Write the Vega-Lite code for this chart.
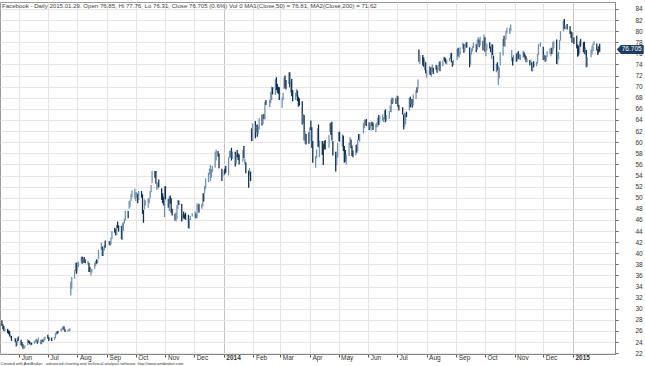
{
"$schema": "https://vega.github.io/schema/vega-lite/v6.json",
"width": 615, "height": 352,
"padding": {"left": 0, "right": 0, "top": 2, "bottom": 0},
"background": "white",
"title": {"text": "Facebook - Daily 2015.01.29. Open 76.85, Hi 77.76, Lo 76.31, Close 76.705 (0.6%) Vol 0 MA1(Close,50) = 76.81, MA2(Close,200) = 71.62", "anchor": "start", "frame": "group", "offset": -7, "dx": 2, "fontSize": 6.1, "fontWeight": "normal", "color": "#444", "font": "Liberation Sans"},
"config": {"font": "Liberation Sans", "view": {"stroke": "#9a9a9a", "strokeWidth": 1}},
"data": {"values": [
{"d":"2013-05-14","o":27.6,"h":27.9,"l":26.9,"c":27.1},
{"d":"2013-05-15","o":27.0,"h":27.2,"l":26.3,"c":26.6},
{"d":"2013-05-16","o":26.6,"h":26.9,"l":26.0,"c":26.1},
{"d":"2013-05-17","o":26.2,"h":26.5,"l":25.9,"c":26.3},
{"d":"2013-05-20","o":26.1,"h":26.4,"l":25.6,"c":25.8},
{"d":"2013-05-21","o":25.8,"h":26.1,"l":25.4,"c":25.7},
{"d":"2013-05-22","o":25.7,"h":26.0,"l":25.0,"c":25.2},
{"d":"2013-05-23","o":25.0,"h":25.4,"l":24.7,"c":25.1},
{"d":"2013-05-24","o":24.8,"h":25.1,"l":24.2,"c":24.3},
{"d":"2013-05-28","o":24.5,"h":24.7,"l":24.0,"c":24.1},
{"d":"2013-05-29","o":24.0,"h":24.2,"l":23.2,"c":23.3},
{"d":"2013-05-30","o":23.5,"h":24.7,"l":23.4,"c":24.6},
{"d":"2013-05-31","o":24.6,"h":25.0,"l":24.2,"c":24.4},
{"d":"2013-06-03","o":24.3,"h":24.4,"l":23.4,"c":23.9},
{"d":"2013-06-04","o":23.9,"h":24.0,"l":23.2,"c":23.5},
{"d":"2013-06-05","o":23.4,"h":23.6,"l":22.8,"c":22.9},
{"d":"2013-06-06","o":22.9,"h":23.1,"l":22.7,"c":23.0},
{"d":"2013-06-07","o":23.0,"h":23.4,"l":22.9,"c":23.3},
{"d":"2013-06-10","o":23.5,"h":24.5,"l":23.4,"c":24.3},
{"d":"2013-06-11","o":24.1,"h":24.3,"l":23.8,"c":24.0},
{"d":"2013-06-12","o":24.1,"h":24.2,"l":23.6,"c":23.8},
{"d":"2013-06-13","o":23.7,"h":23.9,"l":23.4,"c":23.7},
{"d":"2013-06-14","o":23.8,"h":23.9,"l":23.5,"c":23.6},
{"d":"2013-06-17","o":23.8,"h":24.2,"l":23.7,"c":24.0},
{"d":"2013-06-18","o":24.0,"h":24.4,"l":23.9,"c":24.2},
{"d":"2013-06-19","o":24.2,"h":24.6,"l":24.1,"c":24.3},
{"d":"2013-06-20","o":24.2,"h":24.3,"l":23.7,"c":23.9},
{"d":"2013-06-21","o":24.0,"h":24.8,"l":23.9,"c":24.5},
{"d":"2013-06-24","o":24.3,"h":24.4,"l":23.6,"c":23.9},
{"d":"2013-06-25","o":24.1,"h":24.4,"l":23.9,"c":24.3},
{"d":"2013-06-26","o":24.4,"h":24.5,"l":24.0,"c":24.2},
{"d":"2013-06-27","o":24.3,"h":24.8,"l":24.2,"c":24.7},
{"d":"2013-06-28","o":24.7,"h":25.0,"l":24.4,"c":24.9},
{"d":"2013-07-01","o":25.0,"h":25.3,"l":24.6,"c":24.8},
{"d":"2013-07-02","o":24.8,"h":24.9,"l":24.2,"c":24.4},
{"d":"2013-07-03","o":24.4,"h":24.7,"l":24.3,"c":24.5},
{"d":"2013-07-05","o":24.6,"h":24.8,"l":24.2,"c":24.4},
{"d":"2013-07-08","o":24.5,"h":24.9,"l":24.4,"c":24.7},
{"d":"2013-07-09","o":24.8,"h":25.6,"l":24.7,"c":25.5},
{"d":"2013-07-10","o":25.5,"h":25.9,"l":25.3,"c":25.8},
{"d":"2013-07-11","o":25.9,"h":26.0,"l":25.5,"c":25.8},
{"d":"2013-07-12","o":25.8,"h":26.0,"l":25.6,"c":25.9},
{"d":"2013-07-15","o":26.0,"h":26.4,"l":25.9,"c":26.3},
{"d":"2013-07-16","o":26.3,"h":26.6,"l":26.1,"c":26.3},
{"d":"2013-07-17","o":26.4,"h":26.9,"l":26.3,"c":26.7},
{"d":"2013-07-18","o":26.7,"h":26.8,"l":26.1,"c":26.2},
{"d":"2013-07-19","o":26.2,"h":26.3,"l":25.8,"c":25.9},
{"d":"2013-07-22","o":26.0,"h":26.2,"l":25.9,"c":26.1},
{"d":"2013-07-23","o":26.1,"h":26.3,"l":25.9,"c":26.1},
{"d":"2013-07-24","o":26.3,"h":26.5,"l":26.0,"c":26.5},
{"d":"2013-07-25","o":32.8,"h":34.9,"l":32.4,"c":34.4},
{"d":"2013-07-26","o":33.8,"h":35.7,"l":33.6,"c":35.4},
{"d":"2013-07-29","o":36.0,"h":37.0,"l":35.4,"c":36.8},
{"d":"2013-07-30","o":37.0,"h":38.3,"l":36.8,"c":37.6},
{"d":"2013-07-31","o":37.9,"h":38.3,"l":36.3,"c":36.8},
{"d":"2013-08-01","o":37.3,"h":38.3,"l":36.9,"c":37.5},
{"d":"2013-08-02","o":37.7,"h":38.5,"l":37.5,"c":38.1},
{"d":"2013-08-05","o":38.4,"h":39.3,"l":38.3,"c":39.2},
{"d":"2013-08-06","o":39.1,"h":39.4,"l":38.1,"c":38.6},
{"d":"2013-08-07","o":38.6,"h":39.0,"l":38.3,"c":38.9},
{"d":"2013-08-08","o":39.1,"h":39.3,"l":38.3,"c":38.5},
{"d":"2013-08-09","o":38.6,"h":38.9,"l":38.2,"c":38.5},
{"d":"2013-08-12","o":38.2,"h":38.6,"l":37.9,"c":38.2},
{"d":"2013-08-13","o":38.2,"h":38.3,"l":36.6,"c":37.0},
{"d":"2013-08-14","o":36.8,"h":37.5,"l":36.6,"c":36.7},
{"d":"2013-08-15","o":36.4,"h":37.0,"l":36.0,"c":36.6},
{"d":"2013-08-16","o":36.9,"h":37.2,"l":36.5,"c":37.1},
{"d":"2013-08-19","o":37.4,"h":38.3,"l":37.2,"c":37.8},
{"d":"2013-08-20","o":38.0,"h":38.6,"l":37.7,"c":38.4},
{"d":"2013-08-21","o":38.4,"h":38.9,"l":38.1,"c":38.3},
{"d":"2013-08-22","o":38.4,"h":38.8,"l":38.2,"c":38.6},
{"d":"2013-08-23","o":39.0,"h":40.6,"l":38.9,"c":40.6},
{"d":"2013-08-26","o":40.9,"h":41.9,"l":40.6,"c":41.3},
{"d":"2013-08-27","o":40.7,"h":41.2,"l":39.5,"c":39.6},
{"d":"2013-08-28","o":39.9,"h":40.9,"l":39.5,"c":40.6},
{"d":"2013-08-29","o":40.9,"h":41.5,"l":40.5,"c":41.3},
{"d":"2013-08-30","o":42.0,"h":42.3,"l":41.0,"c":41.3},
{"d":"2013-09-03","o":41.8,"h":42.2,"l":41.5,"c":41.9},
{"d":"2013-09-04","o":42.0,"h":42.2,"l":41.4,"c":41.8},
{"d":"2013-09-05","o":41.8,"h":42.8,"l":41.6,"c":42.7},
{"d":"2013-09-06","o":43.1,"h":44.0,"l":42.5,"c":44.0},
{"d":"2013-09-09","o":44.4,"h":44.6,"l":43.7,"c":44.0},
{"d":"2013-09-10","o":44.2,"h":44.3,"l":43.2,"c":43.6},
{"d":"2013-09-11","o":43.4,"h":45.1,"l":43.3,"c":45.0},
{"d":"2013-09-12","o":45.5,"h":45.7,"l":44.5,"c":44.8},
{"d":"2013-09-13","o":45.0,"h":45.0,"l":43.9,"c":44.3},
{"d":"2013-09-16","o":44.9,"h":44.9,"l":42.5,"c":42.5},
{"d":"2013-09-17","o":42.5,"h":45.4,"l":42.4,"c":45.1},
{"d":"2013-09-18","o":44.8,"h":45.6,"l":44.0,"c":45.2},
{"d":"2013-09-19","o":45.5,"h":46.2,"l":45.4,"c":46.0},
{"d":"2013-09-20","o":46.3,"h":47.6,"l":45.9,"c":47.5},
{"d":"2013-09-23","o":47.3,"h":47.6,"l":46.3,"c":47.2},
{"d":"2013-09-24","o":48.2,"h":49.4,"l":48.0,"c":48.5},
{"d":"2013-09-25","o":49.2,"h":49.5,"l":48.3,"c":49.5},
{"d":"2013-09-26","o":50.0,"h":50.6,"l":49.4,"c":50.4},
{"d":"2013-09-27","o":50.3,"h":51.3,"l":50.1,"c":51.2},
{"d":"2013-09-30","o":50.1,"h":51.6,"l":49.8,"c":50.2},
{"d":"2013-10-01","o":49.9,"h":51.0,"l":49.4,"c":50.4},
{"d":"2013-10-02","o":50.1,"h":51.0,"l":49.9,"c":50.3},
{"d":"2013-10-03","o":50.4,"h":50.7,"l":49.0,"c":49.2},
{"d":"2013-10-04","o":49.8,"h":51.2,"l":49.6,"c":51.0},
{"d":"2013-10-07","o":50.7,"h":51.2,"l":50.0,"c":50.5},
{"d":"2013-10-08","o":50.6,"h":50.6,"l":47.1,"c":47.1},
{"d":"2013-10-09","o":47.4,"h":47.8,"l":45.5,"c":46.8},
{"d":"2013-10-10","o":47.9,"h":49.7,"l":47.9,"c":49.1},
{"d":"2013-10-11","o":48.9,"h":49.5,"l":48.6,"c":49.1},
{"d":"2013-10-14","o":48.3,"h":49.9,"l":48.2,"c":49.5},
{"d":"2013-10-15","o":49.5,"h":49.9,"l":49.0,"c":49.5},
{"d":"2013-10-16","o":50.0,"h":51.2,"l":49.9,"c":51.1},
{"d":"2013-10-17","o":51.1,"h":52.3,"l":51.0,"c":52.2},
{"d":"2013-10-18","o":52.8,"h":54.8,"l":52.6,"c":54.2},
{"d":"2013-10-21","o":54.3,"h":54.8,"l":53.6,"c":53.9},
{"d":"2013-10-22","o":54.3,"h":54.8,"l":52.5,"c":52.7},
{"d":"2013-10-23","o":51.8,"h":52.6,"l":51.4,"c":51.9},
{"d":"2013-10-24","o":52.4,"h":52.8,"l":51.6,"c":52.4},
{"d":"2013-10-25","o":53.2,"h":53.3,"l":51.9,"c":51.9},
{"d":"2013-10-28","o":51.5,"h":51.7,"l":49.6,"c":50.2},
{"d":"2013-10-29","o":50.7,"h":50.8,"l":49.0,"c":49.4},
{"d":"2013-10-30","o":50.0,"h":50.2,"l":48.6,"c":49.0},
{"d":"2013-10-31","o":47.2,"h":52.0,"l":46.5,"c":50.2},
{"d":"2013-11-01","o":50.9,"h":52.1,"l":49.7,"c":49.8},
{"d":"2013-11-04","o":49.4,"h":49.8,"l":48.2,"c":48.2},
{"d":"2013-11-05","o":47.8,"h":50.2,"l":47.6,"c":50.1},
{"d":"2013-11-06","o":50.3,"h":50.4,"l":48.9,"c":49.1},
{"d":"2013-11-07","o":49.2,"h":49.9,"l":47.3,"c":47.6},
{"d":"2013-11-08","o":47.8,"h":48.0,"l":46.8,"c":47.5},
{"d":"2013-11-11","o":47.0,"h":47.1,"l":45.9,"c":46.2},
{"d":"2013-11-12","o":46.0,"h":47.4,"l":45.7,"c":46.6},
{"d":"2013-11-13","o":46.2,"h":48.7,"l":46.1,"c":48.7},
{"d":"2013-11-14","o":48.7,"h":49.6,"l":48.0,"c":49.0},
{"d":"2013-11-15","o":49.1,"h":49.5,"l":48.7,"c":49.0},
{"d":"2013-11-18","o":48.5,"h":48.9,"l":45.7,"c":45.8},
{"d":"2013-11-19","o":46.3,"h":47.0,"l":46.0,"c":46.4},
{"d":"2013-11-20","o":46.6,"h":47.5,"l":46.3,"c":46.4},
{"d":"2013-11-21","o":46.9,"h":47.0,"l":46.2,"c":46.7},
{"d":"2013-11-22","o":47.0,"h":47.3,"l":46.0,"c":46.2},
{"d":"2013-11-25","o":46.4,"h":46.9,"l":44.5,"c":44.8},
{"d":"2013-11-26","o":44.7,"h":46.2,"l":44.4,"c":45.9},
{"d":"2013-11-27","o":46.3,"h":46.7,"l":46.0,"c":46.5},
{"d":"2013-11-29","o":46.7,"h":47.2,"l":46.6,"c":47.0},
{"d":"2013-12-02","o":46.9,"h":47.5,"l":46.3,"c":47.1},
{"d":"2013-12-03","o":46.8,"h":47.1,"l":46.3,"c":46.7},
{"d":"2013-12-04","o":46.5,"h":49.0,"l":46.3,"c":48.6},
{"d":"2013-12-05","o":48.2,"h":48.7,"l":47.9,"c":48.3},
{"d":"2013-12-06","o":48.9,"h":48.9,"l":47.3,"c":47.9},
{"d":"2013-12-09","o":48.1,"h":48.9,"l":48.0,"c":48.8},
{"d":"2013-12-10","o":48.6,"h":50.8,"l":48.4,"c":50.3},
{"d":"2013-12-11","o":50.6,"h":50.8,"l":49.3,"c":49.4},
{"d":"2013-12-12","o":51.0,"h":52.1,"l":50.8,"c":51.8},
{"d":"2013-12-13","o":51.7,"h":53.5,"l":51.6,"c":53.3},
{"d":"2013-12-16","o":53.3,"h":54.5,"l":52.8,"c":53.8},
{"d":"2013-12-17","o":54.8,"h":55.2,"l":54.2,"c":54.9},
{"d":"2013-12-18","o":54.9,"h":55.9,"l":53.0,"c":55.6},
{"d":"2013-12-19","o":54.3,"h":55.2,"l":53.6,"c":55.1},
{"d":"2013-12-20","o":55.1,"h":55.7,"l":54.6,"c":55.1},
{"d":"2013-12-23","o":55.5,"h":58.3,"l":55.4,"c":57.8},
{"d":"2013-12-24","o":58.0,"h":58.7,"l":56.7,"c":58.0},
{"d":"2013-12-26","o":58.3,"h":58.4,"l":57.4,"c":57.7},
{"d":"2013-12-27","o":57.8,"h":57.9,"l":55.3,"c":55.4},
{"d":"2013-12-30","o":54.9,"h":55.2,"l":53.0,"c":53.7},
{"d":"2013-12-31","o":54.1,"h":54.9,"l":53.8,"c":54.7},
{"d":"2014-01-02","o":54.8,"h":55.2,"l":54.2,"c":54.7},
{"d":"2014-01-03","o":55.0,"h":55.7,"l":54.5,"c":54.6},
{"d":"2014-01-06","o":54.4,"h":57.3,"l":54.0,"c":57.2},
{"d":"2014-01-07","o":57.7,"h":58.5,"l":57.2,"c":57.9},
{"d":"2014-01-08","o":57.6,"h":58.4,"l":57.2,"c":58.2},
{"d":"2014-01-09","o":58.7,"h":59.0,"l":56.7,"c":57.2},
{"d":"2014-01-10","o":57.1,"h":58.3,"l":57.0,"c":57.9},
{"d":"2014-01-13","o":57.9,"h":58.3,"l":55.6,"c":55.9},
{"d":"2014-01-14","o":56.5,"h":57.8,"l":56.1,"c":57.7},
{"d":"2014-01-15","o":58.0,"h":58.6,"l":57.3,"c":57.6},
{"d":"2014-01-16","o":57.3,"h":58.0,"l":56.8,"c":57.2},
{"d":"2014-01-17","o":57.3,"h":57.8,"l":56.0,"c":56.3},
{"d":"2014-01-21","o":56.6,"h":58.6,"l":56.5,"c":58.5},
{"d":"2014-01-22","o":58.9,"h":59.3,"l":57.1,"c":57.5},
{"d":"2014-01-23","o":56.4,"h":57.0,"l":56.0,"c":56.6},
{"d":"2014-01-24","o":56.2,"h":56.4,"l":54.4,"c":54.5},
{"d":"2014-01-27","o":54.7,"h":54.9,"l":51.8,"c":53.6},
{"d":"2014-01-28","o":54.0,"h":55.3,"l":54.0,"c":55.1},
{"d":"2014-01-29","o":54.6,"h":54.7,"l":53.0,"c":53.5},
{"d":"2014-01-30","o":62.1,"h":62.5,"l":60.2,"c":61.1},
{"d":"2014-01-31","o":60.5,"h":63.4,"l":60.2,"c":62.6},
{"d":"2014-02-03","o":63.0,"h":63.8,"l":60.7,"c":61.5},
{"d":"2014-02-04","o":62.1,"h":63.1,"l":61.8,"c":62.8},
{"d":"2014-02-05","o":62.7,"h":63.2,"l":61.0,"c":62.2},
{"d":"2014-02-06","o":61.5,"h":62.8,"l":61.5,"c":62.2},
{"d":"2014-02-07","o":62.3,"h":64.3,"l":62.3,"c":64.3},
{"d":"2014-02-10","o":64.3,"h":65.0,"l":63.0,"c":63.6},
{"d":"2014-02-11","o":63.8,"h":65.0,"l":63.3,"c":64.9},
{"d":"2014-02-12","o":64.9,"h":65.1,"l":64.2,"c":64.5},
{"d":"2014-02-13","o":64.2,"h":67.3,"l":64.1,"c":67.3},
{"d":"2014-02-14","o":67.5,"h":67.6,"l":66.7,"c":67.1},
{"d":"2014-02-18","o":66.9,"h":67.7,"l":66.3,"c":67.3},
{"d":"2014-02-19","o":67.1,"h":69.1,"l":67.0,"c":68.1},
{"d":"2014-02-20","o":67.7,"h":70.0,"l":67.6,"c":69.6},
{"d":"2014-02-21","o":69.7,"h":69.9,"l":68.6,"c":68.6},
{"d":"2014-02-24","o":68.7,"h":71.4,"l":68.5,"c":70.8},
{"d":"2014-02-25","o":70.9,"h":71.7,"l":69.4,"c":69.9},
{"d":"2014-02-26","o":70.2,"h":70.5,"l":68.9,"c":69.3},
{"d":"2014-02-27","o":69.3,"h":70.0,"l":68.7,"c":68.9},
{"d":"2014-02-28","o":69.5,"h":69.9,"l":67.6,"c":68.5},
{"d":"2014-03-03","o":67.1,"h":68.1,"l":66.2,"c":67.4},
{"d":"2014-03-04","o":68.7,"h":68.9,"l":67.6,"c":68.8},
{"d":"2014-03-05","o":69.7,"h":71.6,"l":69.6,"c":71.6},
{"d":"2014-03-06","o":71.9,"h":72.0,"l":69.8,"c":70.8},
{"d":"2014-03-07","o":71.1,"h":71.2,"l":69.5,"c":69.8},
{"d":"2014-03-10","o":70.8,"h":72.6,"l":70.5,"c":72.0},
{"d":"2014-03-11","o":72.5,"h":72.6,"l":69.9,"c":70.1},
{"d":"2014-03-12","o":69.9,"h":71.0,"l":68.9,"c":70.9},
{"d":"2014-03-13","o":71.3,"h":71.4,"l":68.3,"c":68.8},
{"d":"2014-03-14","o":68.5,"h":69.4,"l":67.4,"c":67.7},
{"d":"2014-03-17","o":68.2,"h":68.9,"l":67.6,"c":68.7},
{"d":"2014-03-18","o":68.8,"h":69.6,"l":68.2,"c":69.2},
{"d":"2014-03-19","o":69.2,"h":69.3,"l":67.4,"c":68.2},
{"d":"2014-03-20","o":68.0,"h":68.2,"l":66.4,"c":67.0},
{"d":"2014-03-21","o":67.5,"h":67.9,"l":66.6,"c":67.2},
{"d":"2014-03-24","o":67.0,"h":67.4,"l":63.2,"c":64.1},
{"d":"2014-03-25","o":64.9,"h":65.1,"l":63.4,"c":64.9},
{"d":"2014-03-26","o":64.7,"h":64.9,"l":60.3,"c":60.4},
{"d":"2014-03-27","o":60.5,"h":61.9,"l":59.7,"c":61.0},
{"d":"2014-03-28","o":61.3,"h":61.5,"l":59.6,"c":60.0},
{"d":"2014-03-31","o":60.8,"h":61.8,"l":59.7,"c":60.2},
{"d":"2014-04-01","o":60.5,"h":62.7,"l":60.2,"c":62.6},
{"d":"2014-04-02","o":63.2,"h":63.9,"l":62.2,"c":62.7},
{"d":"2014-04-03","o":62.6,"h":62.7,"l":59.0,"c":59.5},
{"d":"2014-04-04","o":59.9,"h":60.2,"l":56.3,"c":56.8},
{"d":"2014-04-07","o":56.0,"h":57.5,"l":55.4,"c":57.0},
{"d":"2014-04-08","o":57.7,"h":58.7,"l":57.1,"c":58.2},
{"d":"2014-04-09","o":59.6,"h":62.5,"l":59.2,"c":62.4},
{"d":"2014-04-10","o":63.1,"h":63.2,"l":59.1,"c":59.2},
{"d":"2014-04-11","o":57.6,"h":60.3,"l":57.3,"c":58.5},
{"d":"2014-04-14","o":60.1,"h":60.2,"l":57.7,"c":58.9},
{"d":"2014-04-15","o":59.3,"h":59.7,"l":55.9,"c":59.1},
{"d":"2014-04-16","o":59.8,"h":60.2,"l":58.7,"c":59.7},
{"d":"2014-04-17","o":59.3,"h":60.4,"l":58.7,"c":58.9},
{"d":"2014-04-21","o":59.5,"h":61.3,"l":59.0,"c":61.2},
{"d":"2014-04-22","o":62.6,"h":63.4,"l":61.9,"c":63.0},
{"d":"2014-04-23","o":63.4,"h":63.5,"l":61.3,"c":61.4},
{"d":"2014-04-24","o":63.6,"h":63.7,"l":60.3,"c":60.9},
{"d":"2014-04-25","o":59.9,"h":60.2,"l":57.6,"c":57.7},
{"d":"2014-04-28","o":58.1,"h":58.3,"l":54.7,"c":56.1},
{"d":"2014-04-29","o":56.1,"h":58.3,"l":55.8,"c":58.2},
{"d":"2014-04-30","o":57.6,"h":59.9,"l":57.2,"c":59.8},
{"d":"2014-05-01","o":60.4,"h":61.8,"l":60.2,"c":61.2},
{"d":"2014-05-02","o":61.3,"h":61.9,"l":60.1,"c":60.5},
{"d":"2014-05-05","o":59.7,"h":61.4,"l":59.2,"c":61.2},
{"d":"2014-05-06","o":60.9,"h":61.2,"l":58.4,"c":58.5},
{"d":"2014-05-07","o":58.8,"h":59.3,"l":56.3,"c":57.4},
{"d":"2014-05-08","o":57.2,"h":58.6,"l":56.5,"c":56.8},
{"d":"2014-05-09","o":56.9,"h":57.8,"l":56.0,"c":57.2},
{"d":"2014-05-12","o":57.9,"h":59.9,"l":57.5,"c":59.8},
{"d":"2014-05-13","o":59.7,"h":60.9,"l":59.5,"c":59.8},
{"d":"2014-05-14","o":59.5,"h":60.5,"l":58.9,"c":59.2},
{"d":"2014-05-15","o":59.2,"h":59.4,"l":57.5,"c":57.9},
{"d":"2014-05-16","o":58.3,"h":58.5,"l":57.3,"c":58.0},
{"d":"2014-05-19","o":57.9,"h":59.5,"l":57.6,"c":59.2},
{"d":"2014-05-20","o":59.5,"h":59.6,"l":58.1,"c":58.6},
{"d":"2014-05-21","o":58.6,"h":60.5,"l":58.4,"c":60.5},
{"d":"2014-05-22","o":60.9,"h":61.5,"l":60.4,"c":60.5},
{"d":"2014-05-23","o":60.4,"h":61.5,"l":60.1,"c":61.4},
{"d":"2014-05-27","o":61.6,"h":63.5,"l":61.6,"c":63.5},
{"d":"2014-05-28","o":63.4,"h":64.1,"l":62.5,"c":63.5},
{"d":"2014-05-29","o":63.8,"h":64.0,"l":63.1,"c":63.8},
{"d":"2014-05-30","o":63.9,"h":64.2,"l":62.9,"c":63.3},
{"d":"2014-06-02","o":63.2,"h":63.6,"l":62.2,"c":63.1},
{"d":"2014-06-03","o":62.6,"h":63.5,"l":62.5,"c":62.9},
{"d":"2014-06-04","o":62.5,"h":63.6,"l":62.1,"c":63.3},
{"d":"2014-06-05","o":63.7,"h":63.7,"l":62.9,"c":63.2},
{"d":"2014-06-06","o":63.4,"h":63.5,"l":62.2,"c":62.5},
{"d":"2014-06-09","o":62.4,"h":63.3,"l":61.8,"c":62.9},
{"d":"2014-06-10","o":63.5,"h":63.6,"l":62.7,"c":63.7},
{"d":"2014-06-11","o":63.0,"h":64.4,"l":62.8,"c":64.3},
{"d":"2014-06-12","o":64.3,"h":64.9,"l":63.1,"c":63.7},
{"d":"2014-06-13","o":64.2,"h":64.7,"l":63.6,"c":64.5},
{"d":"2014-06-16","o":64.0,"h":65.0,"l":63.9,"c":64.2},
{"d":"2014-06-17","o":64.2,"h":64.5,"l":63.6,"c":64.4},
{"d":"2014-06-18","o":64.6,"h":65.7,"l":64.1,"c":65.6},
{"d":"2014-06-19","o":65.5,"h":65.9,"l":63.6,"c":64.3},
{"d":"2014-06-20","o":64.5,"h":64.9,"l":63.9,"c":64.5},
{"d":"2014-06-23","o":64.3,"h":65.6,"l":64.2,"c":65.6},
{"d":"2014-06-24","o":65.6,"h":66.6,"l":65.4,"c":65.7},
{"d":"2014-06-25","o":65.6,"h":67.7,"l":65.4,"c":67.6},
{"d":"2014-06-26","o":68.0,"h":68.0,"l":66.9,"c":67.9},
{"d":"2014-06-27","o":67.5,"h":67.9,"l":67.0,"c":67.6},
{"d":"2014-06-30","o":67.5,"h":67.9,"l":66.9,"c":67.3},
{"d":"2014-07-01","o":67.6,"h":68.4,"l":67.4,"c":68.1},
{"d":"2014-07-02","o":68.1,"h":68.3,"l":66.4,"c":66.5},
{"d":"2014-07-03","o":66.6,"h":66.7,"l":65.7,"c":66.3},
{"d":"2014-07-07","o":66.3,"h":66.3,"l":65.0,"c":65.3},
{"d":"2014-07-08","o":64.6,"h":65.0,"l":62.3,"c":62.8},
{"d":"2014-07-09","o":63.3,"h":65.3,"l":62.8,"c":65.0},
{"d":"2014-07-10","o":63.4,"h":65.2,"l":63.2,"c":64.9},
{"d":"2014-07-11","o":65.3,"h":65.5,"l":64.5,"c":65.0},
{"d":"2014-07-14","o":65.7,"h":68.0,"l":65.7,"c":67.9},
{"d":"2014-07-15","o":68.1,"h":68.2,"l":66.3,"c":66.8},
{"d":"2014-07-16","o":67.5,"h":67.8,"l":66.8,"c":67.7},
{"d":"2014-07-17","o":67.6,"h":67.8,"l":66.2,"c":66.4},
{"d":"2014-07-18","o":66.8,"h":68.6,"l":66.6,"c":68.4},
{"d":"2014-07-21","o":67.9,"h":69.4,"l":67.8,"c":69.4},
{"d":"2014-07-22","o":69.8,"h":69.9,"l":68.9,"c":69.3},
{"d":"2014-07-23","o":69.7,"h":71.3,"l":69.6,"c":71.3},
{"d":"2014-07-24","o":75.5,"h":76.7,"l":74.5,"c":75.0},
{"d":"2014-07-25","o":74.9,"h":75.7,"l":74.1,"c":75.2},
{"d":"2014-07-28","o":75.2,"h":75.7,"l":73.8,"c":74.9},
{"d":"2014-07-29","o":74.7,"h":75.3,"l":73.6,"c":73.7},
{"d":"2014-07-30","o":74.2,"h":74.8,"l":73.0,"c":74.7},
{"d":"2014-07-31","o":74.0,"h":74.4,"l":72.4,"c":72.7},
{"d":"2014-08-01","o":72.2,"h":73.0,"l":71.6,"c":72.4},
{"d":"2014-08-04","o":72.4,"h":73.7,"l":72.2,"c":73.5},
{"d":"2014-08-05","o":73.2,"h":73.5,"l":72.1,"c":72.7},
{"d":"2014-08-06","o":72.0,"h":73.6,"l":71.8,"c":72.5},
{"d":"2014-08-07","o":73.0,"h":74.0,"l":72.7,"c":73.2},
{"d":"2014-08-08","o":73.4,"h":73.4,"l":72.3,"c":73.1},
{"d":"2014-08-11","o":73.5,"h":73.9,"l":73.1,"c":73.4},
{"d":"2014-08-12","o":73.4,"h":73.6,"l":72.5,"c":72.8},
{"d":"2014-08-13","o":73.0,"h":73.9,"l":72.9,"c":73.8},
{"d":"2014-08-14","o":74.0,"h":74.4,"l":73.7,"c":74.3},
{"d":"2014-08-15","o":74.6,"h":74.6,"l":72.8,"c":73.6},
{"d":"2014-08-18","o":74.2,"h":74.7,"l":73.7,"c":74.6},
{"d":"2014-08-19","o":74.8,"h":75.4,"l":74.7,"c":75.3},
{"d":"2014-08-20","o":75.2,"h":75.3,"l":74.5,"c":74.8},
{"d":"2014-08-21","o":74.8,"h":75.1,"l":74.2,"c":74.6},
{"d":"2014-08-22","o":74.3,"h":74.8,"l":74.0,"c":74.6},
{"d":"2014-08-25","o":74.8,"h":75.2,"l":74.6,"c":75.0},
{"d":"2014-08-26","o":75.2,"h":76.0,"l":75.0,"c":76.0},
{"d":"2014-08-27","o":75.9,"h":76.1,"l":74.4,"c":74.6},
{"d":"2014-08-28","o":74.5,"h":74.6,"l":73.6,"c":73.9},
{"d":"2014-08-29","o":74.3,"h":74.8,"l":73.9,"c":74.8},
{"d":"2014-09-02","o":75.0,"h":76.8,"l":74.8,"c":76.7},
{"d":"2014-09-03","o":76.6,"h":77.0,"l":75.5,"c":75.8},
{"d":"2014-09-04","o":75.9,"h":76.4,"l":75.2,"c":76.0},
{"d":"2014-09-05","o":76.0,"h":77.1,"l":75.8,"c":77.0},
{"d":"2014-09-08","o":77.0,"h":77.9,"l":76.8,"c":77.4},
{"d":"2014-09-09","o":77.2,"h":77.7,"l":76.1,"c":76.7},
{"d":"2014-09-10","o":76.9,"h":77.5,"l":76.3,"c":77.4},
{"d":"2014-09-11","o":77.3,"h":78.0,"l":77.1,"c":77.9},
{"d":"2014-09-12","o":77.6,"h":78.0,"l":77.0,"c":77.5},
{"d":"2014-09-15","o":77.0,"h":77.1,"l":73.5,"c":74.6},
{"d":"2014-09-16","o":74.2,"h":76.1,"l":74.0,"c":76.1},
{"d":"2014-09-17","o":76.0,"h":76.9,"l":75.8,"c":76.4},
{"d":"2014-09-18","o":76.8,"h":77.3,"l":76.4,"c":77.0},
{"d":"2014-09-19","o":77.6,"h":78.0,"l":77.0,"c":77.9},
{"d":"2014-09-22","o":77.6,"h":77.7,"l":76.2,"c":76.8},
{"d":"2014-09-23","o":76.6,"h":78.5,"l":76.6,"c":78.3},
{"d":"2014-09-24","o":78.3,"h":78.9,"l":77.8,"c":78.5},
{"d":"2014-09-25","o":78.3,"h":78.5,"l":77.1,"c":77.2},
{"d":"2014-09-26","o":77.4,"h":79.0,"l":77.4,"c":79.0},
{"d":"2014-09-29","o":78.0,"h":78.3,"l":76.5,"c":77.0},
{"d":"2014-09-30","o":77.5,"h":79.4,"l":77.4,"c":79.0},
{"d":"2014-10-01","o":78.8,"h":78.9,"l":76.3,"c":76.6},
{"d":"2014-10-02","o":76.5,"h":77.3,"l":75.5,"c":77.1},
{"d":"2014-10-03","o":77.3,"h":77.8,"l":76.5,"c":77.4},
{"d":"2014-10-06","o":77.7,"h":78.0,"l":76.9,"c":77.6},
{"d":"2014-10-07","o":77.0,"h":77.2,"l":76.2,"c":76.3},
{"d":"2014-10-08","o":76.4,"h":77.7,"l":75.0,"c":77.5},
{"d":"2014-10-09","o":77.3,"h":77.6,"l":75.7,"c":75.9},
{"d":"2014-10-10","o":75.3,"h":75.6,"l":72.8,"c":72.9},
{"d":"2014-10-13","o":72.8,"h":74.1,"l":72.6,"c":73.6},
{"d":"2014-10-14","o":74.1,"h":74.4,"l":72.9,"c":73.2},
{"d":"2014-10-15","o":71.4,"h":73.8,"l":70.3,"c":73.2},
{"d":"2014-10-16","o":71.6,"h":73.5,"l":71.5,"c":72.6},
{"d":"2014-10-17","o":73.9,"h":76.2,"l":73.8,"c":76.0},
{"d":"2014-10-20","o":75.7,"h":78.6,"l":75.6,"c":78.6},
{"d":"2014-10-21","o":78.9,"h":79.2,"l":77.3,"c":77.8},
{"d":"2014-10-22","o":78.0,"h":78.6,"l":77.2,"c":78.4},
{"d":"2014-10-23","o":78.9,"h":80.1,"l":78.5,"c":80.0},
{"d":"2014-10-24","o":80.0,"h":80.6,"l":79.6,"c":80.4},
{"d":"2014-10-27","o":80.2,"h":80.6,"l":79.5,"c":80.3},
{"d":"2014-10-28","o":80.4,"h":81.2,"l":80.0,"c":80.8},
{"d":"2014-10-29","o":75.9,"h":76.6,"l":74.6,"c":75.9},
{"d":"2014-10-30","o":75.1,"h":75.3,"l":73.8,"c":74.1},
{"d":"2014-10-31","o":75.0,"h":75.7,"l":74.6,"c":75.0},
{"d":"2014-11-03","o":75.5,"h":76.0,"l":74.5,"c":75.0},
{"d":"2014-11-04","o":75.0,"h":76.2,"l":74.7,"c":75.9},
{"d":"2014-11-05","o":76.2,"h":76.4,"l":75.0,"c":75.4},
{"d":"2014-11-06","o":75.5,"h":75.9,"l":74.9,"c":75.6},
{"d":"2014-11-07","o":75.4,"h":75.8,"l":74.8,"c":75.6},
{"d":"2014-11-10","o":75.7,"h":76.5,"l":75.2,"c":76.1},
{"d":"2014-11-11","o":76.1,"h":76.2,"l":75.4,"c":75.9},
{"d":"2014-11-12","o":75.6,"h":75.8,"l":74.9,"c":75.3},
{"d":"2014-11-13","o":75.4,"h":75.5,"l":74.4,"c":74.7},
{"d":"2014-11-14","o":74.8,"h":75.1,"l":74.4,"c":74.9},
{"d":"2014-11-17","o":74.7,"h":74.8,"l":73.8,"c":74.2},
{"d":"2014-11-18","o":74.3,"h":74.9,"l":74.0,"c":74.3},
{"d":"2014-11-19","o":74.3,"h":74.4,"l":72.8,"c":73.3},
{"d":"2014-11-20","o":73.0,"h":73.8,"l":72.8,"c":73.6},
{"d":"2014-11-21","o":74.4,"h":74.6,"l":73.5,"c":73.8},
{"d":"2014-11-24","o":74.0,"h":74.5,"l":73.7,"c":74.0},
{"d":"2014-11-25","o":74.3,"h":75.9,"l":74.2,"c":75.6},
{"d":"2014-11-26","o":75.8,"h":77.7,"l":75.7,"c":77.6},
{"d":"2014-11-28","o":77.6,"h":78.0,"l":77.2,"c":77.7},
{"d":"2014-12-01","o":77.0,"h":77.2,"l":74.8,"c":75.1},
{"d":"2014-12-02","o":75.5,"h":75.8,"l":74.9,"c":75.5},
{"d":"2014-12-03","o":75.4,"h":75.6,"l":74.5,"c":74.9},
{"d":"2014-12-04","o":74.9,"h":75.6,"l":74.6,"c":75.2},
{"d":"2014-12-05","o":75.4,"h":76.4,"l":75.3,"c":76.4},
{"d":"2014-12-08","o":76.2,"h":76.9,"l":75.9,"c":76.5},
{"d":"2014-12-09","o":75.8,"h":77.0,"l":75.5,"c":76.8},
{"d":"2014-12-10","o":76.7,"h":77.0,"l":75.9,"c":76.2},
{"d":"2014-12-11","o":76.5,"h":78.1,"l":76.4,"c":77.7},
{"d":"2014-12-12","o":77.2,"h":78.2,"l":76.9,"c":77.8},
{"d":"2014-12-15","o":78.3,"h":78.5,"l":74.1,"c":74.7},
{"d":"2014-12-16","o":74.3,"h":76.0,"l":74.0,"c":74.7},
{"d":"2014-12-17","o":75.0,"h":76.3,"l":74.9,"c":76.1},
{"d":"2014-12-18","o":76.9,"h":78.4,"l":76.6,"c":78.4},
{"d":"2014-12-19","o":78.8,"h":80.0,"l":78.3,"c":79.9},
{"d":"2014-12-22","o":80.1,"h":81.9,"l":80.0,"c":81.5},
{"d":"2014-12-23","o":82.0,"h":82.2,"l":80.4,"c":80.6},
{"d":"2014-12-24","o":80.6,"h":81.0,"l":80.3,"c":80.8},
{"d":"2014-12-26","o":80.9,"h":81.3,"l":80.3,"c":80.8},
{"d":"2014-12-29","o":80.7,"h":80.9,"l":79.5,"c":80.0},
{"d":"2014-12-30","o":79.8,"h":80.0,"l":78.8,"c":79.2},
{"d":"2014-12-31","o":79.5,"h":79.8,"l":77.9,"c":78.0},
{"d":"2015-01-02","o":78.6,"h":78.9,"l":77.7,"c":78.5},
{"d":"2015-01-05","o":78.0,"h":79.2,"l":76.9,"c":77.2},
{"d":"2015-01-06","o":77.2,"h":77.6,"l":75.4,"c":76.2},
{"d":"2015-01-07","o":76.8,"h":77.4,"l":75.6,"c":76.2},
{"d":"2015-01-08","o":76.7,"h":78.2,"l":76.1,"c":78.2},
{"d":"2015-01-09","o":78.2,"h":78.6,"l":77.2,"c":77.7},
{"d":"2015-01-12","o":77.8,"h":78.0,"l":76.2,"c":76.7},
{"d":"2015-01-13","o":77.2,"h":78.1,"l":75.9,"c":76.5},
{"d":"2015-01-14","o":75.9,"h":77.1,"l":75.7,"c":76.3},
{"d":"2015-01-15","o":76.4,"h":76.6,"l":73.5,"c":74.1},
{"d":"2015-01-16","o":74.0,"h":75.3,"l":73.6,"c":75.2},
{"d":"2015-01-20","o":75.7,"h":76.7,"l":75.3,"c":76.2},
{"d":"2015-01-21","o":76.2,"h":77.3,"l":75.8,"c":76.7},
{"d":"2015-01-22","o":77.2,"h":77.8,"l":76.4,"c":77.7},
{"d":"2015-01-23","o":77.7,"h":78.2,"l":77.5,"c":77.8},
{"d":"2015-01-26","o":77.6,"h":77.8,"l":76.5,"c":77.5},
{"d":"2015-01-27","o":76.7,"h":76.8,"l":75.7,"c":75.8},
{"d":"2015-01-28","o":76.9,"h":77.3,"l":76.1,"c":76.2},
{"d":"2015-01-29","o":76.85,"h":77.76,"l":76.31,"c":76.705}
]},
"layer": [
{
"mark": {"type": "rule", "strokeWidth": 1.3},
"encoding": {
"x": {"field": "d", "type": "temporal",
"scale": {"type": "utc", "domain": [{"year": 2013, "month": 5, "date": 12, "utc": true}, {"year": 2015, "month": 2, "date": 14, "utc": true}]},
"axis": {"title": "Created with AmiBroker - advanced charting and technical analysis software. http://www.amibroker.com",
"titleAnchor": "start", "titleFontSize": 4, "titleFontWeight": "normal", "titleColor": "#333", "titlePadding": 1,
"tickCount": 100,
"values": [
{"year": 2013, "month": 6, "date": 1, "utc": true},
{"year": 2013, "month": 7, "date": 1, "utc": true},
{"year": 2013, "month": 8, "date": 1, "utc": true},
{"year": 2013, "month": 9, "date": 1, "utc": true},
{"year": 2013, "month": 10, "date": 1, "utc": true},
{"year": 2013, "month": 11, "date": 1, "utc": true},
{"year": 2013, "month": 12, "date": 1, "utc": true},
{"year": 2014, "month": 1, "date": 1, "utc": true},
{"year": 2014, "month": 2, "date": 1, "utc": true},
{"year": 2014, "month": 3, "date": 1, "utc": true},
{"year": 2014, "month": 4, "date": 1, "utc": true},
{"year": 2014, "month": 5, "date": 1, "utc": true},
{"year": 2014, "month": 6, "date": 1, "utc": true},
{"year": 2014, "month": 7, "date": 1, "utc": true},
{"year": 2014, "month": 8, "date": 1, "utc": true},
{"year": 2014, "month": 9, "date": 1, "utc": true},
{"year": 2014, "month": 10, "date": 1, "utc": true},
{"year": 2014, "month": 11, "date": 1, "utc": true},
{"year": 2014, "month": 12, "date": 1, "utc": true},
{"year": 2015, "month": 1, "date": 1, "utc": true}],
"labelExpr": "utcFormat(datum.value, '%m') == '01' ? utcFormat(datum.value, '%Y') : utcFormat(datum.value, '%b')",
"labelFontWeight": {"condition": {"test": "utcmonth(datum.value) == 0", "value": "bold"}, "value": "normal"},
"labelAlign": "left", "labelBaseline": "top", "labelOffset": 2, "labelPadding": -3, "labelFontSize": 6.5, "labelColor": "#333",
"labelOverlap": false, "labelBound": false, "labelFlush": false,
"tickSize": 3, "tickColor": "#555", "domainColor": "#888",
"grid": true, "gridColor": {"condition": {"test": "utcmonth(datum.value) == 0", "value": "#c4c4c4"}, "value": "#e4e4e4"}}},
"y": {"field": "l", "type": "quantitative",
"scale": {"domain": [21.84, 85.26], "nice": false, "zero": false},
"axis": {"orient": "right", "title": null, "tickCount": 100, "format": "d", "values": [22,24,26,28,30,32,34,36,38,40,42,44,46,48,50,52,54,56,58,60,62,64,66,68,70,72,74,76,78,80,82,84],
"labelOverlap": false, "labelBound": false, "labelFlush": false,
"labelFontSize": 6.5, "labelColor": "#333", "labelAlign": "left", "labelPadding": 17, "tickSize": 3, "tickColor": "#666", "domainColor": "#888",
"grid": true, "gridColor": "#e6e6e6", "zindex": 0}},
"y2": {"field": "h"},
"color": {"condition": {"test": "datum.c >= datum.o", "value": "#7192b5"}, "value": "#14314f"}
}
},
{
"transform": [{"filter": "utcyear(datum.d) == 2015 && utcmonth(datum.d) == 0 && utcdate(datum.d) == 29"}],
"mark": {"type": "point", "shape": "M4.3,0 L5.3,-1.15 L11.0,-1.15 L11.0,1.15 L5.3,1.15 Z", "size": 64, "filled": true, "opacity": 1, "color": "#1c3d62", "strokeWidth": 0},
"encoding": {"x": {"field": "d", "type": "temporal"}, "y": {"field": "c", "type": "quantitative"}}
},
{
"transform": [{"filter": "utcyear(datum.d) == 2015 && utcmonth(datum.d) == 0 && utcdate(datum.d) == 29"}],
"mark": {"type": "text", "dx": 32, "fontSize": 6.5, "color": "white", "align": "center", "baseline": "middle"},
"encoding": {"x": {"field": "d", "type": "temporal"}, "y": {"field": "c", "type": "quantitative"}, "text": {"field": "c", "type": "quantitative", "format": ".3f"}}
}
]
}
